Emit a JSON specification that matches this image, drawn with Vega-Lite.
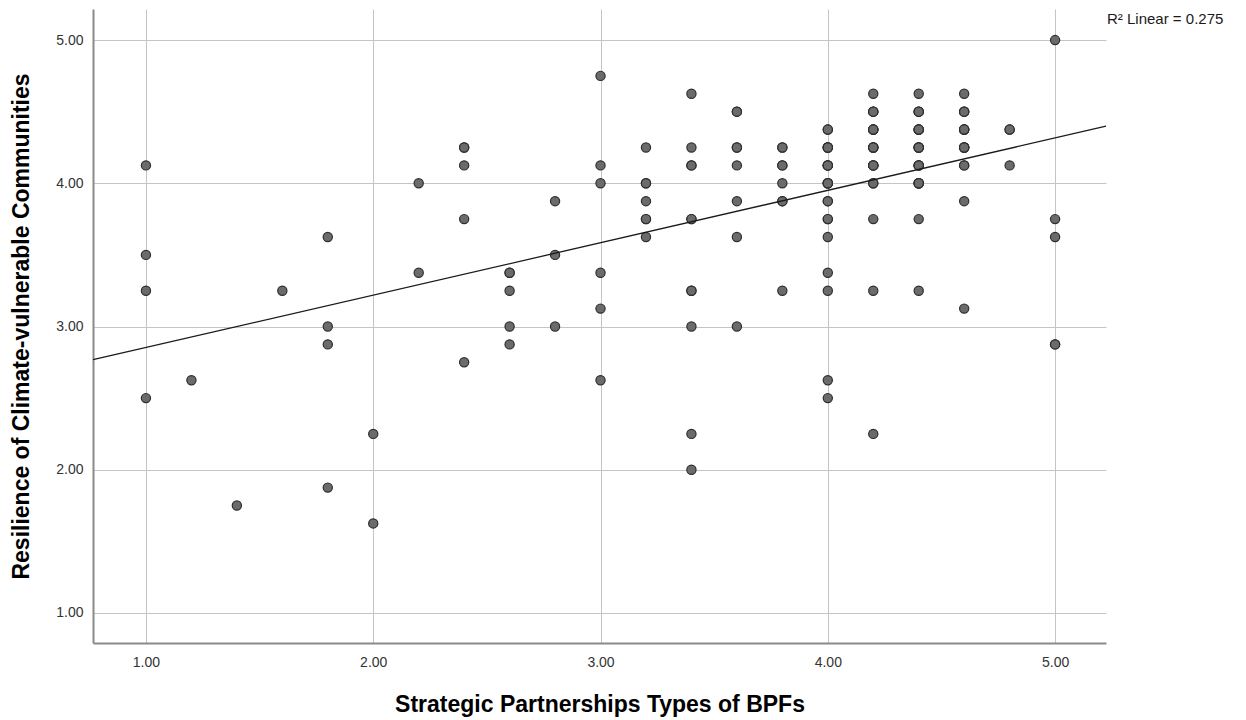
{
  "$schema": "https://vega.github.io/schema/vega-lite/v6.json",
  "width": 1013,
  "height": 634,
  "autosize": {"type": "none"},
  "padding": {"left": 93, "top": 9, "right": 140, "bottom": 77},
  "background": "white",
  "config": {
    "view": {"stroke": null},
    "font": "Liberation Sans",
    "axis": {
      "grid": true,
      "gridColor": "#c4c4c4",
      "gridWidth": 1,
      "domainColor": "#8a8a8a",
      "domainWidth": 2,
      "ticks": false,
      "labelFont": "Liberation Sans",
      "labelFontSize": 14,
      "labelColor": "#333333",
      "titleFont": "Liberation Sans",
      "titleFontSize": 23,
      "titleFontWeight": "bold",
      "titleColor": "#000000"
    }
  },
  "data": {
    "values": [
      {"bpf": 1.0, "res": 4.125}, {"bpf": 1.0, "res": 3.5}, {"bpf": 1.0, "res": 3.25}, {"bpf": 1.0, "res": 2.5},
      {"bpf": 1.2, "res": 2.625},
      {"bpf": 1.4, "res": 1.75},
      {"bpf": 1.6, "res": 3.25},
      {"bpf": 1.8, "res": 3.625}, {"bpf": 1.8, "res": 3.0}, {"bpf": 1.8, "res": 2.875}, {"bpf": 1.8, "res": 1.875},
      {"bpf": 2.0, "res": 2.25}, {"bpf": 2.0, "res": 1.625},
      {"bpf": 2.2, "res": 4.0}, {"bpf": 2.2, "res": 3.375},
      {"bpf": 2.4, "res": 4.25}, {"bpf": 2.4, "res": 4.25}, {"bpf": 2.4, "res": 4.125}, {"bpf": 2.4, "res": 3.75}, {"bpf": 2.4, "res": 2.75},
      {"bpf": 2.6, "res": 3.375}, {"bpf": 2.6, "res": 3.375}, {"bpf": 2.6, "res": 3.25}, {"bpf": 2.6, "res": 3.0}, {"bpf": 2.6, "res": 2.875},
      {"bpf": 2.8, "res": 3.875}, {"bpf": 2.8, "res": 3.5}, {"bpf": 2.8, "res": 3.0},
      {"bpf": 3.0, "res": 4.75}, {"bpf": 3.0, "res": 4.125}, {"bpf": 3.0, "res": 4.0}, {"bpf": 3.0, "res": 3.375}, {"bpf": 3.0, "res": 3.125}, {"bpf": 3.0, "res": 2.625},
      {"bpf": 3.2, "res": 4.25}, {"bpf": 3.2, "res": 4.0}, {"bpf": 3.2, "res": 4.0}, {"bpf": 3.2, "res": 3.875}, {"bpf": 3.2, "res": 3.75}, {"bpf": 3.2, "res": 3.75}, {"bpf": 3.2, "res": 3.625},
      {"bpf": 3.4, "res": 4.625}, {"bpf": 3.4, "res": 4.25}, {"bpf": 3.4, "res": 4.125}, {"bpf": 3.4, "res": 4.125}, {"bpf": 3.4, "res": 3.75}, {"bpf": 3.4, "res": 3.75}, {"bpf": 3.4, "res": 3.25}, {"bpf": 3.4, "res": 3.25}, {"bpf": 3.4, "res": 3.0}, {"bpf": 3.4, "res": 2.25}, {"bpf": 3.4, "res": 2.0},
      {"bpf": 3.6, "res": 4.5}, {"bpf": 3.6, "res": 4.5}, {"bpf": 3.6, "res": 4.25}, {"bpf": 3.6, "res": 4.25}, {"bpf": 3.6, "res": 4.125}, {"bpf": 3.6, "res": 3.875}, {"bpf": 3.6, "res": 3.625}, {"bpf": 3.6, "res": 3.0},
      {"bpf": 3.8, "res": 4.25}, {"bpf": 3.8, "res": 4.25}, {"bpf": 3.8, "res": 4.125}, {"bpf": 3.8, "res": 4.125}, {"bpf": 3.8, "res": 4.0}, {"bpf": 3.8, "res": 3.875}, {"bpf": 3.8, "res": 3.875}, {"bpf": 3.8, "res": 3.25},
      {"bpf": 4.0, "res": 4.375}, {"bpf": 4.0, "res": 4.375}, {"bpf": 4.0, "res": 4.25}, {"bpf": 4.0, "res": 4.25}, {"bpf": 4.0, "res": 4.25}, {"bpf": 4.0, "res": 4.25}, {"bpf": 4.0, "res": 4.125}, {"bpf": 4.0, "res": 4.125}, {"bpf": 4.0, "res": 4.125}, {"bpf": 4.0, "res": 4.125}, {"bpf": 4.0, "res": 4.0}, {"bpf": 4.0, "res": 4.0}, {"bpf": 4.0, "res": 4.0}, {"bpf": 4.0, "res": 4.0}, {"bpf": 4.0, "res": 3.875}, {"bpf": 4.0, "res": 3.875}, {"bpf": 4.0, "res": 3.75}, {"bpf": 4.0, "res": 3.75}, {"bpf": 4.0, "res": 3.625}, {"bpf": 4.0, "res": 3.375}, {"bpf": 4.0, "res": 3.25}, {"bpf": 4.0, "res": 2.625}, {"bpf": 4.0, "res": 2.5},
      {"bpf": 4.2, "res": 4.625}, {"bpf": 4.2, "res": 4.5}, {"bpf": 4.2, "res": 4.5}, {"bpf": 4.2, "res": 4.5}, {"bpf": 4.2, "res": 4.375}, {"bpf": 4.2, "res": 4.375}, {"bpf": 4.2, "res": 4.375}, {"bpf": 4.2, "res": 4.375}, {"bpf": 4.2, "res": 4.25}, {"bpf": 4.2, "res": 4.25}, {"bpf": 4.2, "res": 4.25}, {"bpf": 4.2, "res": 4.25}, {"bpf": 4.2, "res": 4.125}, {"bpf": 4.2, "res": 4.125}, {"bpf": 4.2, "res": 4.125}, {"bpf": 4.2, "res": 4.125}, {"bpf": 4.2, "res": 4.0}, {"bpf": 4.2, "res": 4.0}, {"bpf": 4.2, "res": 3.75}, {"bpf": 4.2, "res": 3.25}, {"bpf": 4.2, "res": 2.25},
      {"bpf": 4.4, "res": 4.625}, {"bpf": 4.4, "res": 4.5}, {"bpf": 4.4, "res": 4.5}, {"bpf": 4.4, "res": 4.5}, {"bpf": 4.4, "res": 4.375}, {"bpf": 4.4, "res": 4.375}, {"bpf": 4.4, "res": 4.375}, {"bpf": 4.4, "res": 4.375}, {"bpf": 4.4, "res": 4.25}, {"bpf": 4.4, "res": 4.25}, {"bpf": 4.4, "res": 4.25}, {"bpf": 4.4, "res": 4.25}, {"bpf": 4.4, "res": 4.125}, {"bpf": 4.4, "res": 4.125}, {"bpf": 4.4, "res": 4.125}, {"bpf": 4.4, "res": 4.125}, {"bpf": 4.4, "res": 4.0}, {"bpf": 4.4, "res": 4.0}, {"bpf": 4.4, "res": 4.0}, {"bpf": 4.4, "res": 4.0}, {"bpf": 4.4, "res": 3.75}, {"bpf": 4.4, "res": 3.25},
      {"bpf": 4.6, "res": 4.625}, {"bpf": 4.6, "res": 4.5}, {"bpf": 4.6, "res": 4.5}, {"bpf": 4.6, "res": 4.5}, {"bpf": 4.6, "res": 4.375}, {"bpf": 4.6, "res": 4.375}, {"bpf": 4.6, "res": 4.375}, {"bpf": 4.6, "res": 4.375}, {"bpf": 4.6, "res": 4.25}, {"bpf": 4.6, "res": 4.25}, {"bpf": 4.6, "res": 4.25}, {"bpf": 4.6, "res": 4.25}, {"bpf": 4.6, "res": 4.125}, {"bpf": 4.6, "res": 4.125}, {"bpf": 4.6, "res": 3.875}, {"bpf": 4.6, "res": 3.125},
      {"bpf": 4.8, "res": 4.375}, {"bpf": 4.8, "res": 4.375}, {"bpf": 4.8, "res": 4.125},
      {"bpf": 5.0, "res": 5.0}, {"bpf": 5.0, "res": 3.75}, {"bpf": 5.0, "res": 3.625}, {"bpf": 5.0, "res": 2.875}, {"bpf": 5.0, "res": 2.875}
    ]
  },
  "layer": [
    {
      "mark": {"type": "circle", "size": 85, "fill": "#6b6b6b", "stroke": "#2e2e2e", "strokeWidth": 1.2, "opacity": 1},
      "encoding": {
        "x": {
          "field": "bpf",
          "type": "quantitative",
          "title": "Strategic Partnerships Types of BPFs",
          "scale": {"domain": [0.767, 5.224], "nice": false, "zero": false},
          "axis": {"values": [1, 2, 3, 4, 5], "format": ".2f", "labelPadding": 12, "titlePadding": 24}
        },
        "y": {
          "field": "res",
          "type": "quantitative",
          "title": "Resilience of Climate-vulnerable Communities",
          "scale": {"domain": [0.79, 5.217], "nice": false, "zero": false},
          "axis": {"values": [1, 2, 3, 4, 5], "format": ".2f", "labelPadding": 10, "titlePadding": 22}
        }
      }
    },
    {
      "transform": [
        {"regression": "res", "on": "bpf", "extent": [0.767, 5.224]}
      ],
      "mark": {"type": "line", "color": "#1a1a1a", "strokeWidth": 1.3},
      "encoding": {
        "x": {"field": "bpf", "type": "quantitative"},
        "y": {"field": "res", "type": "quantitative"}
      }
    },
    {
      "data": {"values": [{"label": "R² Linear = 0.275"}]},
      "mark": {"type": "text", "align": "left", "baseline": "middle", "dx": 1, "fontSize": 15, "font": "Liberation Sans", "color": "#1a1a1a"},
      "encoding": {
        "x": {"datum": 5.224, "type": "quantitative"},
        "y": {"datum": 5.15, "type": "quantitative"},
        "text": {"field": "label"}
      }
    }
  ]
}
